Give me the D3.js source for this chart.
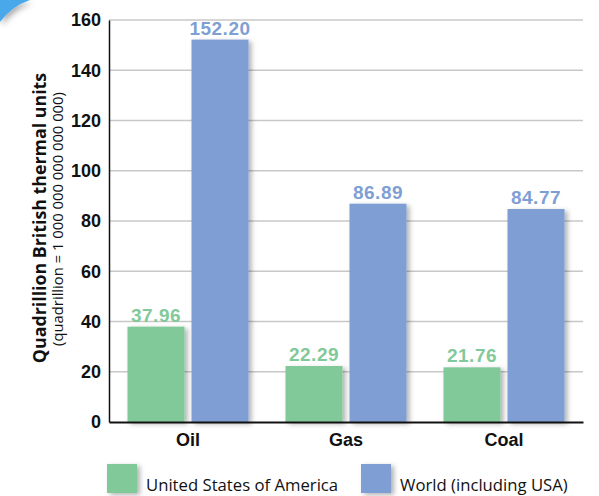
<!DOCTYPE html>
<html><head><meta charset="utf-8">
<script src="https://cdn.jsdelivr.net/npm/d3@7"></script>
<style>html,body{margin:0;padding:0;background:#fff;}svg{display:block;}</style>
</head><body>
<svg id="chart" width="599" height="496"></svg>
<script>
const categories = ["Oil", "Gas", "Coal"];
const seriesNames = ["United States of America", "World (including USA)"];
const usaValues = [37.96, 22.29, 21.76];
const worldValues = [152.20, 86.89, 84.77];
const yTicks = [0, 20, 40, 60, 80, 100, 120, 140, 160];
const colors = ["#82c99a", "#7f9fd4"];

const svg = d3.select("#chart");
const defs = svg.append("defs");
const f = defs.append("filter").attr("id","sh").attr("x","-20%").attr("y","-20%").attr("width","150%").attr("height","150%");
f.append("feDropShadow").attr("dx",3).attr("dy",2).attr("stdDeviation",2.5).attr("flood-color","#000").attr("flood-opacity",0.3);
const f2 = defs.append("filter").attr("id","sh2").attr("x","-50%").attr("y","-50%").attr("width","250%").attr("height","250%");
f2.append("feDropShadow").attr("dx",2).attr("dy",3).attr("stdDeviation",3).attr("flood-color","#000").attr("flood-opacity",0.35);

// corner decoration
svg.append("path").attr("d","M0,0 L30,0 Q12,6 0,22 Z").attr("fill","#4aa8ea").attr("filter","url(#sh2)");

const mLeft = 109, mRight = 583, mTop = 20, mBottom = 422;
const y = d3.scaleLinear().domain([0,160]).range([mBottom, mTop]);
const x0 = d3.scaleBand().domain(categories).range([mLeft, mRight]).paddingInner(0.234).paddingOuter(0.117);
const x1 = d3.scaleBand().domain([0,1]).range([0, x0.bandwidth()]).paddingInner(0.109);

// gridlines
svg.append("g").selectAll("line").data(yTicks.filter(d=>d>0)).join("line")
  .attr("x1",mLeft).attr("x2",mRight).attr("y1",d=>y(d)).attr("y2",d=>y(d))
  .attr("stroke","#c8c8c8").attr("stroke-width",1.5);

// y axis
const yAxis = svg.append("g").attr("transform",`translate(${mLeft},0)`)
  .call(d3.axisLeft(y).tickValues(yTicks).tickSize(0).tickPadding(8).tickFormat(d3.format("d")));
yAxis.select(".domain").attr("stroke","#111").attr("stroke-width",1.5);
yAxis.selectAll("text").attr("font-family","Liberation Sans, Arial, sans-serif").attr("font-weight","bold").attr("font-size",18).attr("fill","#111");

// bars
const data = categories.map((c,i)=>({cat:c, vals:[usaValues[i], worldValues[i]]}));
const g = svg.append("g");
const groups = g.selectAll("g").data(data).join("g").attr("transform",d=>`translate(${x0(d.cat)},0)`);
groups.selectAll("rect").data(d=>d.vals.map((v,k)=>({v,k}))).join("rect")
  .attr("x",d=>x1(d.k)).attr("width",x1.bandwidth())
  .attr("y",d=>y(d.v)).attr("height",d=>mBottom-y(d.v))
  .attr("fill",d=>colors[d.k]).attr("filter","url(#sh)");
groups.selectAll("text").data(d=>d.vals.map((v,k)=>({v,k}))).join("text")
  .attr("x",d=>x1(d.k)+x1.bandwidth()/2).attr("y",d=>y(d.v)-5)
  .attr("text-anchor","middle").attr("font-family","Liberation Sans, Arial, sans-serif")
  .attr("font-weight","bold").attr("font-size",19).attr("letter-spacing",0.5)
  .attr("fill",d=>colors[d.k]).text(d=>d.v.toFixed(2));

// x axis
const xAxis = svg.append("g").attr("transform",`translate(0,${mBottom})`)
  .call(d3.axisBottom(x0).tickSize(0).tickPadding(11));
xAxis.select(".domain").attr("stroke","#111").attr("stroke-width",2);
xAxis.selectAll("text").attr("font-family","Liberation Sans, Arial, sans-serif").attr("font-weight","bold").attr("font-size",18).attr("fill","#111");

// y title
svg.append("text").attr("transform",`translate(46,218) rotate(-90)`).attr("text-anchor","middle")
  .attr("font-family","Open Sans, sans-serif").attr("font-weight","bold").attr("font-size",17.8).attr("fill","#111")
  .text("Quadrillion British thermal units");
svg.append("text").attr("transform",`translate(63,219) rotate(-90)`).attr("text-anchor","middle")
  .attr("font-family","Open Sans, sans-serif").attr("font-size",14.8).attr("fill","#111")
  .text("(quadrillion = 1 000 000 000 000 000)");

// legend
const legX = [107, 361];
const leg = svg.append("g");
seriesNames.forEach((n,i)=>{
  leg.append("rect").attr("x",legX[i]).attr("y",464).attr("width",30).attr("height",29).attr("fill",colors[i]).attr("filter","url(#sh)");
  leg.append("text").attr("x",legX[i]+39).attr("y",491).attr("font-family","Open Sans, sans-serif").attr("font-size",16.7).attr("fill","#111").text(n);
});
</script>
</body></html>
